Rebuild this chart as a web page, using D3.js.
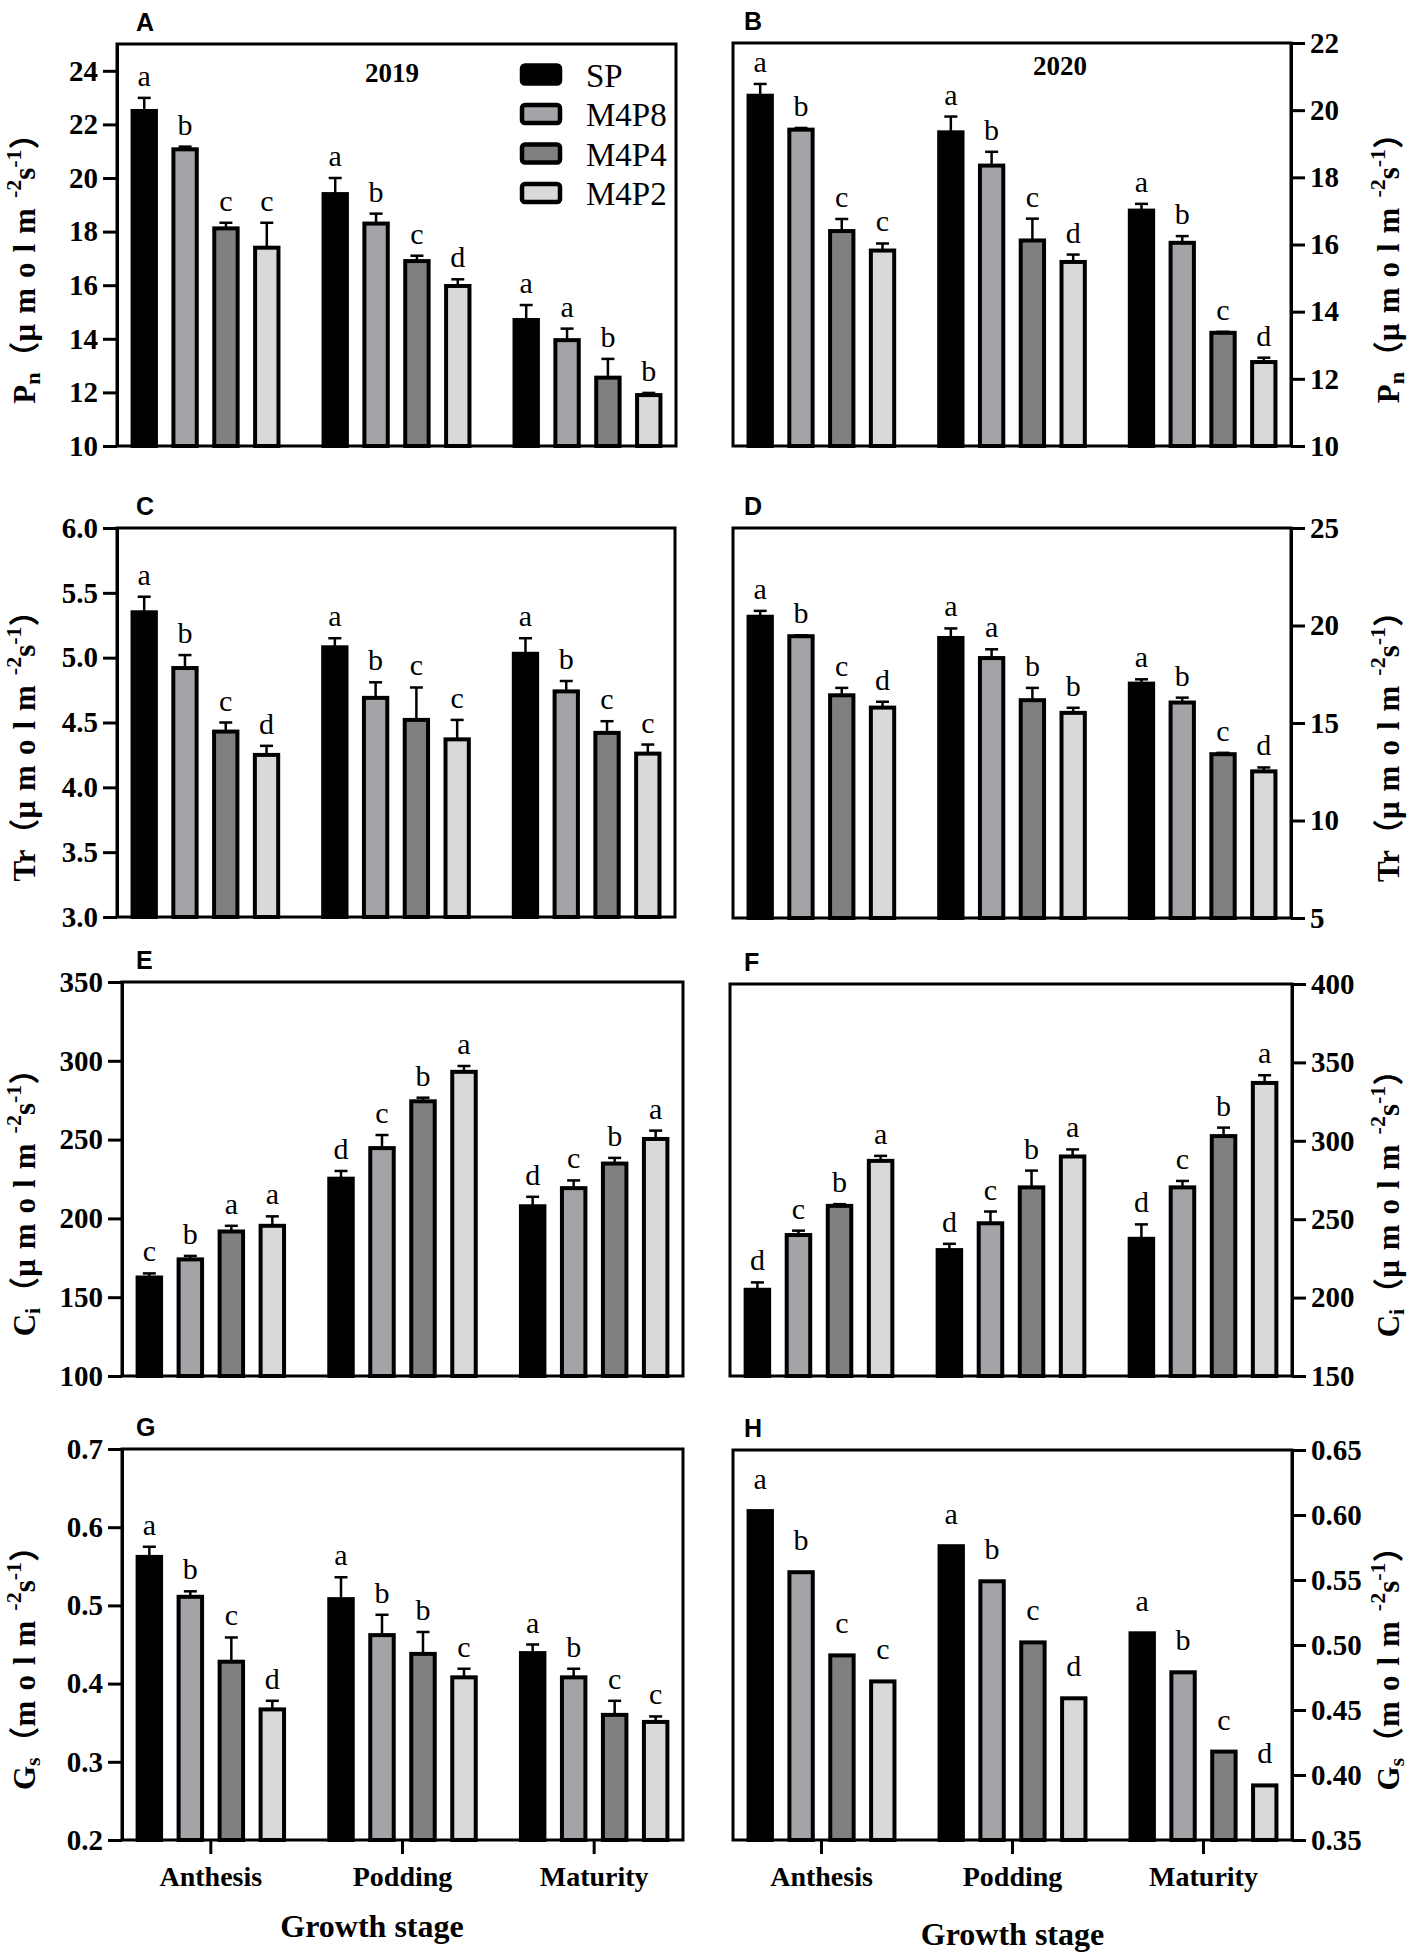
<!DOCTYPE html>
<html>
<head>
<meta charset="utf-8">
<script src="https://cdn.jsdelivr.net/npm/d3@7"></script>
<style>
  html, body { margin: 0; padding: 0; background: #fff; }
  svg { display: block; }
</style>
</head>
<body>
<svg id="chart" width="1417" height="1956"></svg>
<script>
// ---------------- DATA ----------------
const stages = ["Anthesis", "Podding", "Maturity"];
const treatments = ["SP", "M4P8", "M4P4", "M4P2"];
const barColors = ["#000000", "#a3a3a8", "#808080", "#d9d9d9"];

// values indexed [stage][treatment]
const pn2019 = [[22.5, 21.07, 18.12, 17.4], [19.4, 18.3, 16.9, 15.97], [14.7, 13.95, 12.55, 11.9]];
const pn2019Err = [[0.49, 0.1, 0.21, 0.93], [0.6, 0.37, 0.2, 0.25], [0.56, 0.43, 0.7, 0.08]];
const pn2019Sig = [["a", "b", "c", "c"], ["a", "b", "c", "d"], ["a", "a", "b", "b"]];

const pn2020 = [[20.43, 19.42, 16.4, 15.82], [19.34, 18.35, 16.12, 15.48], [17.01, 16.05, 13.37, 12.5]];
const pn2020Err = [[0.35, 0.05, 0.36, 0.21], [0.47, 0.41, 0.65, 0.22], [0.2, 0.2, 0.03, 0.13]];
const pn2020Sig = [["a", "b", "c", "c"], ["a", "b", "c", "d"], ["a", "b", "c", "d"]];

const tr2019 = [[5.35, 4.92, 4.43, 4.25], [5.08, 4.69, 4.52, 4.37], [5.03, 4.74, 4.42, 4.26]];
const tr2019Err = [[0.12, 0.10, 0.07, 0.07], [0.07, 0.12, 0.25, 0.15], [0.12, 0.08, 0.09, 0.07]];
const tr2019Sig = [["a", "b", "c", "d"], ["a", "b", "c", "c"], ["a", "b", "c", "c"]];

const tr2020 = [[20.45, 19.45, 16.42, 15.79], [19.36, 18.33, 16.17, 15.52], [17.02, 16.05, 13.4, 12.52]];
const tr2020Err = [[0.3, 0.05, 0.38, 0.3], [0.49, 0.45, 0.63, 0.26], [0.22, 0.25, 0.07, 0.2]];
const tr2020Sig = [["a", "b", "c", "d"], ["a", "a", "b", "b"], ["a", "b", "c", "d"]];

const ci2019 = [[162.5, 174, 191.7, 195.3], [225.2, 244.6, 274.3, 293], [207.7, 219.2, 234.8, 250.4]];
const ci2019Err = [[2.6, 2.2, 3.6, 6], [4.9, 8.3, 2.3, 3.7], [6, 4.9, 3.6, 5.3]];
const ci2019Sig = [["c", "b", "a", "a"], ["d", "c", "b", "a"], ["d", "c", "b", "a"]];

const ci2020 = [[205, 239.9, 258.5, 287.2], [230.3, 247.4, 270.3, 290], [237.5, 270.3, 303, 336.9]];
const ci2020Err = [[4.7, 2.8, 1.1, 3.2], [4, 7.5, 10.7, 4.5], [9.2, 4.1, 5.4, 4.9]];
const ci2020Sig = [["d", "c", "b", "a"], ["d", "c", "b", "a"], ["d", "c", "b", "a"]];

const gs2019 = [[0.562, 0.511, 0.428, 0.367], [0.508, 0.462, 0.438, 0.408], [0.439, 0.408, 0.360, 0.351]];
const gs2019Err = [[0.013, 0.007, 0.031, 0.011], [0.028, 0.026, 0.028, 0.011], [0.011, 0.011, 0.018, 0.007]];
const gs2019Sig = [["a", "b", "c", "d"], ["a", "b", "b", "c"], ["a", "b", "c", "c"]];

const gs2020 = [[0.603, 0.556, 0.492, 0.472], [0.576, 0.549, 0.502, 0.459], [0.509, 0.479, 0.418, 0.392]];
const gs2020Err = [[0, 0, 0, 0], [0, 0, 0, 0], [0, 0, 0, 0]];
const gs2020Sig = [["a", "b", "c", "c"], ["a", "b", "c", "d"], ["a", "b", "c", "d"]];

// tick values
const pn2019Ticks = [10, 12, 14, 16, 18, 20, 22, 24];
const pn2020Ticks = [10, 12, 14, 16, 18, 20, 22];
const tr2019Ticks = [3.0, 3.5, 4.0, 4.5, 5.0, 5.5, 6.0];
const tr2020Ticks = [5, 10, 15, 20, 25];
const ci2019Ticks = [100, 150, 200, 250, 300, 350];
const ci2020Ticks = [150, 200, 250, 300, 350, 400];
const gs2019Ticks = [0.2, 0.3, 0.4, 0.5, 0.6, 0.7];
const gs2020Ticks = [0.35, 0.40, 0.45, 0.50, 0.55, 0.60, 0.65];

const panelLetters = ["A", "B", "C", "D", "E", "F", "G", "H"];
const yearLabels = ["2019", "2020"];
const xTitle = "Growth stage";

// ---------------- LAYOUT ----------------
const serif = "'Liberation Serif', 'Times New Roman', serif";
const cjk = "'Liberation Serif', 'Noto Sans CJK SC', serif";
const sans = "'Liberation Sans', Arial, sans-serif";

const svg = d3.select("#chart");

// title: [main, subscript]
const panels = [
  { vals: pn2019, err: pn2019Err, sig: pn2019Sig, domain: [10, 25], ticks: pn2019Ticks, fmt: d3.format("d"), side: "left",
    box: [117, 676, 44, 446], title: ["P", "n"], unit: "μmolm" },
  { vals: pn2020, err: pn2020Err, sig: pn2020Sig, domain: [10, 22], ticks: pn2020Ticks, fmt: d3.format("d"), side: "right",
    box: [733, 1291, 43, 446], title: ["P", "n"], unit: "μmolm" },
  { vals: tr2019, err: tr2019Err, sig: tr2019Sig, domain: [3, 6], ticks: tr2019Ticks, fmt: d3.format(".1f"), side: "left",
    box: [117, 675, 528, 917], title: ["Tr", ""], unit: "μmolm" },
  { vals: tr2020, err: tr2020Err, sig: tr2020Sig, domain: [5, 25], ticks: tr2020Ticks, fmt: d3.format("d"), side: "right",
    box: [733, 1291, 528, 918], title: ["Tr", ""], unit: "μmolm" },
  { vals: ci2019, err: ci2019Err, sig: ci2019Sig, domain: [100, 350], ticks: ci2019Ticks, fmt: d3.format("d"), side: "left",
    box: [122, 683, 982, 1376], title: ["C", "i"], unit: "μmolm" },
  { vals: ci2020, err: ci2020Err, sig: ci2020Sig, domain: [150, 400], ticks: ci2020Ticks, fmt: d3.format("d"), side: "right",
    box: [730, 1292, 984, 1376], title: ["C", "i"], unit: "μmolm" },
  { vals: gs2019, err: gs2019Err, sig: gs2019Sig, domain: [0.2, 0.7], ticks: gs2019Ticks, fmt: d3.format(".1f"), side: "left",
    box: [122, 683, 1449, 1840], title: ["G", "s"], unit: "molm", bottom: true },
  { vals: gs2020, err: gs2020Err, sig: gs2020Sig, domain: [0.35, 0.65], ticks: gs2020Ticks, fmt: d3.format(".2f"), side: "right",
    box: [733, 1292, 1450, 1840], title: ["G", "s"], unit: "molm", bottom: true }
];

panels.forEach((p, pi) => {
  const [x0, x1, y0, y1] = p.box;
  const g = svg.append("g");

  const xStage = d3.scaleBand().domain(stages).range([x0, x1]).paddingInner(0.215).paddingOuter(0.071);
  const xTreat = d3.scaleBand().domain(treatments).range([0, xStage.bandwidth()]).paddingInner(0.33).paddingOuter(0);
  const y = d3.scaleLinear().domain(p.domain).range([y1, y0]);

  // bars
  const bw = xTreat.bandwidth();
  stages.forEach((s, si) => {
    treatments.forEach((t, ti) => {
      const v = p.vals[si][ti];
      const e = p.err[si][ti];
      const bx = xStage(s) + xTreat(t);
      const cx = bx + bw / 2;
      g.append("rect")
        .attr("x", bx + 2).attr("width", bw - 4)
        .attr("y", y(v)).attr("height", y(p.domain[0]) - y(v))
        .attr("fill", barColors[ti]).attr("stroke", "#000").attr("stroke-width", 4);
      let top = y(v) - 2;
      if (e > 0) {
        const ye = y(v + e);
        g.append("line").attr("x1", cx).attr("x2", cx).attr("y1", y(v)).attr("y2", ye)
          .attr("stroke", "#000").attr("stroke-width", 2.5);
        g.append("line").attr("x1", cx - 6.5).attr("x2", cx + 6.5).attr("y1", ye).attr("y2", ye)
          .attr("stroke", "#000").attr("stroke-width", 2.5);
        top = ye;
      } else {
        top -= 8;
      }
      g.append("text").attr("x", cx).attr("y", top - 12)
        .attr("text-anchor", "middle")
        .attr("font-family", serif).attr("font-size", 30)
        .text(p.sig[si][ti]);
    });
  });

  // frame
  g.append("rect").attr("x", x0).attr("y", y0).attr("width", x1 - x0).attr("height", y1 - y0)
    .attr("fill", "none").attr("stroke", "#000").attr("stroke-width", 3);

  // y axis
  const axis = (p.side === "left" ? d3.axisLeft(y) : d3.axisRight(y))
    .tickValues(p.ticks).tickFormat(p.fmt).tickSize(14).tickSizeOuter(0).tickPadding(5);
  const ag = g.append("g")
    .attr("transform", `translate(${p.side === "left" ? x0 : x1},0)`)
    .call(axis);
  ag.select(".domain").attr("stroke-width", 3);
  ag.selectAll(".tick line").attr("stroke-width", 3);
  ag.selectAll(".tick text").attr("font-family", serif).attr("font-size", 29)
    .attr("font-weight", "bold").attr("fill", "#000");

  // x axis on bottom panels
  if (p.bottom) {
    const xa = d3.axisBottom(xStage).tickSize(14).tickSizeOuter(0).tickPadding(12);
    const xg = g.append("g").attr("transform", `translate(0,${y1})`).call(xa);
    xg.select(".domain").remove();
    xg.selectAll(".tick line").attr("stroke-width", 3);
    xg.selectAll(".tick text").attr("font-family", serif).attr("font-size", 28)
      .attr("font-weight", "bold").attr("fill", "#000");
    const cxT = p.side === "left" ? 372 : (x0 + x1) / 2;
    const byT = p.side === "left" ? 1937 : 1945;
    g.append("text").attr("x", cxT).attr("y", byT).attr("text-anchor", "middle")
      .attr("font-family", serif).attr("font-size", 32).attr("font-weight", "bold")
      .text(xTitle);
  }

  // y title
  const tx = p.side === "left" ? 28 : 1392;
  const ty = (y0 + y1) / 2 + 16;
  const tt = g.append("text")
    .attr("transform", `translate(${tx},${ty}) rotate(-90)`)
    .attr("text-anchor", "middle").attr("dominant-baseline", "middle")
    .attr("font-family", cjk).attr("font-size", 31).attr("font-weight", "bold");
  tt.append("tspan").text(p.title[0]);
  if (p.title[1]) {
    tt.append("tspan").attr("font-size", 22).attr("dy", 7).text(p.title[1]);
    tt.append("tspan").attr("dy", -7).text("（");
  } else {
    tt.append("tspan").text("（");
  }
  tt.append("tspan").attr("letter-spacing", 10).text(p.unit);
  tt.append("tspan").attr("font-size", 22).attr("dy", -12).text("-2");
  tt.append("tspan").attr("dy", 12).text("s");
  tt.append("tspan").attr("font-size", 22).attr("dy", -12).text("-1");
  tt.append("tspan").attr("dy", 12).text("）");

  // panel letter
  g.append("text").attr("x", p.side === "left" ? 136 : 744).attr("y", y0 - 13)
    .attr("font-family", sans).attr("font-size", 25).attr("font-weight", "bold")
    .text(panelLetters[pi]);

  // year labels and legend
  if (pi < 2) {
    g.append("text").attr("x", pi === 0 ? 392 : 1060).attr("y", pi === 0 ? 82 : 75)
      .attr("text-anchor", "middle")
      .attr("font-family", serif).attr("font-size", 27).attr("font-weight", "bold")
      .text(yearLabels[pi]);
  }
  if (pi === 0) {
    const lg = g.append("g");
    treatments.forEach((t, ti) => {
      const cy = 74.5 + ti * 39.5;
      lg.append("rect").attr("x", 522).attr("y", cy - 9).attr("width", 38).attr("height", 18)
        .attr("rx", 3)
        .attr("fill", barColors[ti]).attr("stroke", "#000").attr("stroke-width", 4.5);
      lg.append("text").attr("x", 586).attr("y", cy + 12)
        .attr("font-family", serif).attr("font-size", 33).text(t);
    });
  }
});
</script>
</body>
</html>
